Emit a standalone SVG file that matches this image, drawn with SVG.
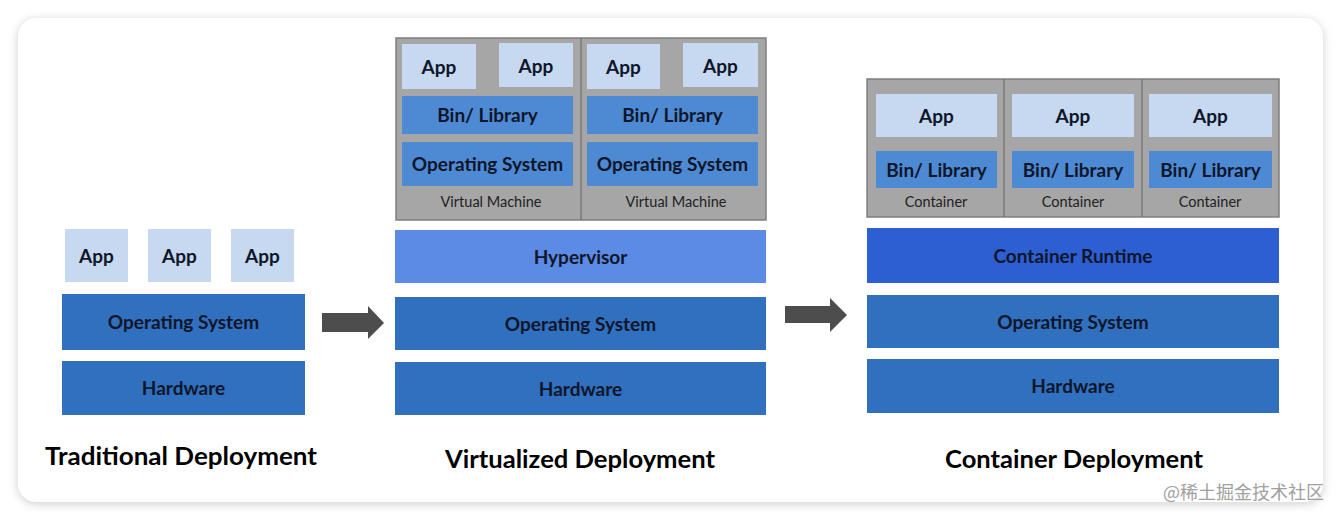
<svg xmlns="http://www.w3.org/2000/svg" width="1341" height="520" viewBox="0 0 1341 520">
<defs>
<filter id="sh" x="-5%" y="-10%" width="110%" height="120%">
<feGaussianBlur stdDeviation="5"/>
</filter>
<style>
.app{fill:#c6d9f0}
.bin{fill:#4e8ad4}
.dk{fill:#3070bf}
.hyp{fill:#5b8be4}
.rt{fill:#2d5fd3}
.box{fill:#a6a6a6;stroke:#7f7f7f;stroke-width:1.5}
.div{stroke:#6f6f6f;stroke-width:1.2}
.t{font-family:Lato,"Open Sans","Liberation Sans",sans-serif;font-weight:bold;fill:#0f1629;text-anchor:middle}
.s{font-size:19px}
.m{font-size:14.5px;font-weight:normal;fill:#222}
.h{font-size:24px;fill:#000}
.arr{fill:#4d4d4d}
.wm{font-family:"Noto Sans CJK SC","Liberation Sans",sans-serif;font-size:18px;fill:#a0a0a0}
</style>
</defs>
<rect width="1341" height="520" fill="#fff"/>
<rect x="18" y="20" width="1305" height="484" rx="18" fill="#cfcfcf" filter="url(#sh)"/>
<rect x="18" y="18" width="1305" height="484" rx="18" fill="#fff"/>

<g id="traditional">
<rect class="app" x="65" y="229" width="63" height="53"/>
<text class="t s" x="96.5" y="263">App</text>
<rect class="app" x="148" y="229" width="63" height="53"/>
<text class="t s" x="179.5" y="263">App</text>
<rect class="app" x="231" y="229" width="63" height="53"/>
<text class="t s" x="262.5" y="263">App</text>
<rect class="dk" x="62" y="294" width="243" height="56"/>
<text class="t s" x="183.5" y="329">Operating System</text>
<rect class="dk" x="62" y="361" width="243" height="54"/>
<text class="t s" x="183.5" y="395">Hardware</text>
<text class="t h" x="181" y="465" textLength="272" lengthAdjust="spacingAndGlyphs">Traditional Deployment</text>
</g>

<g id="virtualized">
<rect class="box" x="396" y="38" width="370" height="182"/>
<line class="div" x1="581" y1="38" x2="581" y2="220"/>
<rect class="app" x="402" y="44" width="74" height="45"/>
<text class="t s" x="439" y="74">App</text>
<rect class="app" x="499" y="43" width="74" height="44"/>
<text class="t s" x="536" y="73">App</text>
<rect class="app" x="587" y="44" width="73" height="45"/>
<text class="t s" x="623.5" y="74">App</text>
<rect class="app" x="683" y="43" width="75" height="44"/>
<text class="t s" x="720.5" y="73">App</text>
<rect class="bin" x="402" y="96" width="171" height="38"/>
<text class="t s" x="487.5" y="122">Bin/ Library</text>
<rect class="bin" x="587" y="96" width="171" height="38"/>
<text class="t s" x="672.5" y="122">Bin/ Library</text>
<rect class="bin" x="402" y="142" width="171" height="44"/>
<text class="t s" x="487.5" y="171">Operating System</text>
<rect class="bin" x="587" y="142" width="171" height="44"/>
<text class="t s" x="672.5" y="171">Operating System</text>
<text class="t m" x="491" y="207">Virtual Machine</text>
<text class="t m" x="676" y="207">Virtual Machine</text>
<rect class="hyp" x="395" y="230" width="371" height="53"/>
<text class="t s" x="580.5" y="264">Hypervisor</text>
<rect class="dk" x="395" y="297" width="371" height="53"/>
<text class="t s" x="580.5" y="331">Operating System</text>
<rect class="dk" x="395" y="362" width="371" height="53"/>
<text class="t s" x="580.5" y="396">Hardware</text>
<text class="t h" x="580" y="468" textLength="270" lengthAdjust="spacingAndGlyphs">Virtualized Deployment</text>
</g>

<g id="container">
<rect class="box" x="867" y="79" width="412" height="138"/>
<line class="div" x1="1004" y1="79" x2="1004" y2="217"/>
<line class="div" x1="1142" y1="79" x2="1142" y2="217"/>
<rect class="app" x="876" y="94" width="121" height="43"/>
<text class="t s" x="936.5" y="123">App</text>
<rect class="app" x="1012" y="94" width="122" height="43"/>
<text class="t s" x="1073" y="123">App</text>
<rect class="app" x="1149" y="94" width="123" height="43"/>
<text class="t s" x="1210.5" y="123">App</text>
<rect class="bin" x="876" y="151" width="121" height="37"/>
<text class="t s" x="936.5" y="177">Bin/ Library</text>
<rect class="bin" x="1012" y="151" width="122" height="37"/>
<text class="t s" x="1073" y="177">Bin/ Library</text>
<rect class="bin" x="1149" y="151" width="123" height="37"/>
<text class="t s" x="1210.5" y="177">Bin/ Library</text>
<text class="t m" x="936" y="207">Container</text>
<text class="t m" x="1073" y="207">Container</text>
<text class="t m" x="1210" y="207">Container</text>
<rect class="rt" x="867" y="228" width="412" height="55"/>
<text class="t s" x="1073" y="263">Container Runtime</text>
<rect class="dk" x="867" y="295" width="412" height="53"/>
<text class="t s" x="1073" y="329">Operating System</text>
<rect class="dk" x="867" y="359" width="412" height="54"/>
<text class="t s" x="1073" y="393">Hardware</text>
<text class="t h" x="1074" y="468" textLength="258" lengthAdjust="spacingAndGlyphs">Container Deployment</text>
</g>

<g id="connectors">
<polygon class="arr" points="322,313 368,313 368,306 384,323 368,339 368,332 322,332"/>
<polygon class="arr" points="785,306 830,306 830,298 847,315 830,332 830,323 785,323"/>
</g>

<text class="wm" x="1163" y="499">@稀土掘金技术社区</text>
</svg>
